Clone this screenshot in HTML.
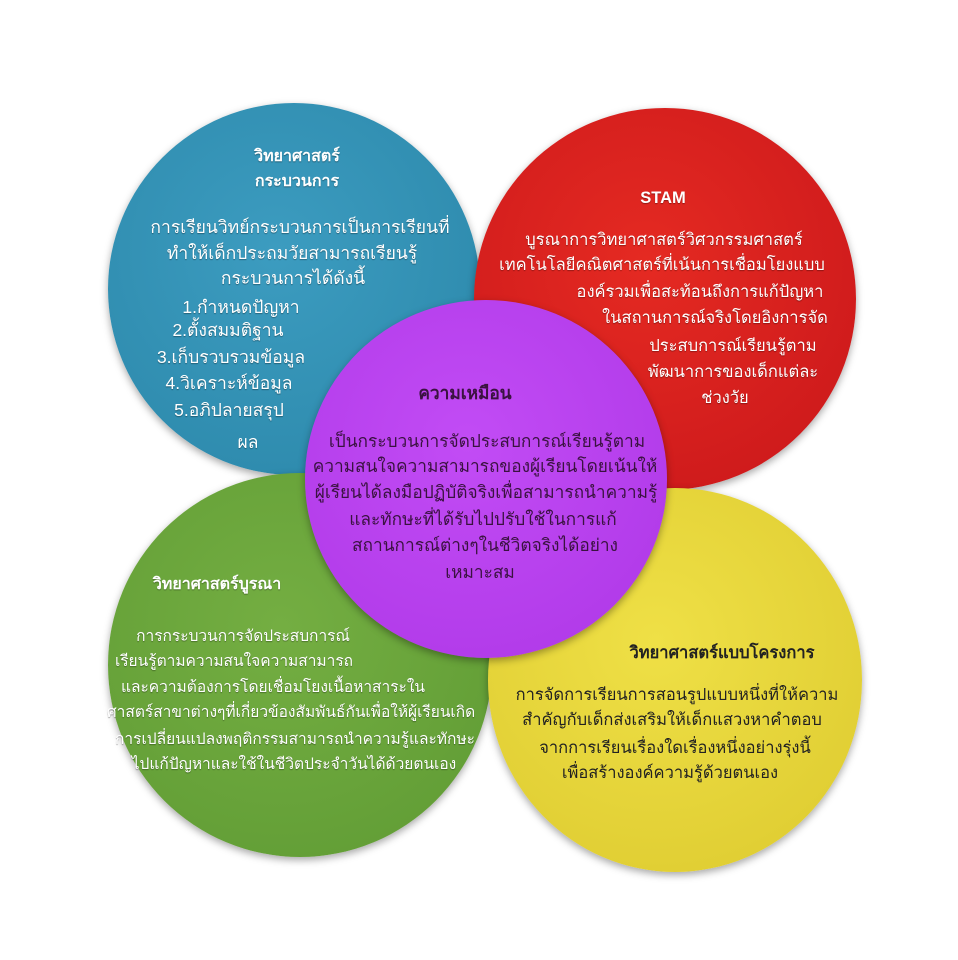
<!DOCTYPE html>
<html><head><meta charset="utf-8"><style>
body{margin:0;width:958px;height:960px;background:#fff;overflow:hidden;position:relative;font-family:"Liberation Sans","DejaVu Sans","Noto Sans CJK SC",sans-serif;color:#111}
.c{position:absolute;border-radius:50%;box-shadow:0 3px 8px rgba(0,0,0,.35)}
.l{position:absolute;width:500px;text-align:center;height:26px;line-height:26px;white-space:nowrap}
.w{color:#fff;text-shadow:0 1px 1px rgba(0,0,0,.35)}
.b{font-weight:bold}
.bl{font-size:17.5px}.rd{font-size:16.5px}.pp{font-size:17.3px;color:#3a1240}.gr{font-size:15.5px}.yl{font-size:16.5px;color:#222}
</style></head><body>
<div class="c" style="left:108px;top:103px;width:372px;height:372px;background:radial-gradient(circle at 45% 40%,#3c9cc0,#2a86a8)"></div>
<div class="c" style="left:474px;top:108px;width:382px;height:382px;background:radial-gradient(circle at 45% 40%,#e52a22,#c8161a)"></div>
<div class="c" style="left:108px;top:473px;width:384px;height:384px;background:radial-gradient(circle at 45% 40%,#74ae42,#5e9a33)"></div>
<div class="c" style="left:488px;top:488px;width:374px;height:384px;background:radial-gradient(circle at 45% 40%,#efe046,#dcc92e)"></div>
<div class="c" style="left:305px;top:300px;width:362px;height:358px;background:radial-gradient(circle at 45% 40%,#c24cf5,#ad36e6)"></div>

<div class="l w b bl" style="left:47px;top:144px;font-size:16px">วิทยาศาสตร์</div>
<div class="l w b bl" style="left:47px;top:169px;font-size:16px">กระบวนการ</div>
<div class="l w bl" style="left:50px;top:214px">การเรียนวิทย์กระบวนการเป็นการเรียนที่</div>
<div class="l w bl" style="left:42px;top:240px">ทำให้เด็กประถมวัยสามารถเรียนรู้</div>
<div class="l w bl" style="left:43px;top:265px">กระบวนการได้ดังนี้</div>
<div class="l w bl" style="left:-9px;top:294px">1.กำหนดปัญหา</div>
<div class="l w bl" style="left:-22px;top:317px">2.ตั้งสมมติฐาน</div>
<div class="l w bl" style="left:-19px;top:344px">3.เก็บรวบรวมข้อมูล</div>
<div class="l w bl" style="left:-21px;top:370px">4.วิเคราะห์ข้อมูล</div>
<div class="l w bl" style="left:-21px;top:397px">5.อภิปลายสรุป</div>
<div class="l w bl" style="left:-2px;top:429px">ผล</div>

<div class="l w b rd" style="left:413px;top:185px">STAM</div>
<div class="l w rd" style="left:414px;top:227px">บูรณาการวิทยาศาสตร์วิศวกรรมศาสตร์</div>
<div class="l w rd" style="left:412px;top:252px">เทคโนโลยีคณิตศาสตร์ที่เน้นการเชื่อมโยงแบบ</div>
<div class="l w rd" style="left:450px;top:279px">องค์รวมเพื่อสะท้อนถึงการแก้ปัญหา</div>
<div class="l w rd" style="left:465px;top:305px">ในสถานการณ์จริงโดยอิงการจัด</div>
<div class="l w rd" style="left:483px;top:333px">ประสบการณ์เรียนรู้ตาม</div>
<div class="l w rd" style="left:483px;top:359px">พัฒนาการของเด็กแต่ละ</div>
<div class="l w rd" style="left:475px;top:385px">ช่วงวัย</div>

<div class="l b pp" style="left:215px;top:380px">ความเหมือน</div>
<div class="l pp" style="left:237px;top:428px">เป็นกระบวนการจัดประสบการณ์เรียนรู้ตาม</div>
<div class="l pp" style="left:235px;top:453px">ความสนใจความสามารถของผู้เรียนโดยเน้นให้</div>
<div class="l pp" style="left:236px;top:479px">ผู้เรียนได้ลงมือปฏิบัติจริงเพื่อสามารถนำความรู้</div>
<div class="l pp" style="left:233px;top:506px">และทักษะที่ได้รับไปปรับใช้ในการแก้</div>
<div class="l pp" style="left:235px;top:532px">สถานการณ์ต่างๆในชีวิตจริงได้อย่าง</div>
<div class="l pp" style="left:230px;top:559px">เหมาะสม</div>

<div class="l w b gr" style="left:-33px;top:572px;font-size:16px">วิทยาศาสตร์บูรณา</div>
<div class="l w gr" style="left:-7px;top:624px">การกระบวนการจัดประสบการณ์</div>
<div class="l w gr" style="left:-16px;top:649px">เรียนรู้ตามความสนใจความสามารถ</div>
<div class="l w gr" style="left:23px;top:675px">และความต้องการโดยเชื่อมโยงเนื้อหาสาระใน</div>
<div class="l w gr" style="left:41px;top:700px">ศาสตร์สาขาต่างๆที่เกี่ยวข้องสัมพันธ์กันเพื่อให้ผู้เรียนเกิด</div>
<div class="l w gr" style="left:45px;top:727px">การเปลี่ยนแปลงพฤติกรรมสามารถนำความรู้และทักษะ</div>
<div class="l w gr" style="left:44px;top:752px">ไปแก้ปัญหาและใช้ในชีวิตประจำวันได้ด้วยตนเอง</div>

<div class="l b yl" style="left:472px;top:640px">วิทยาศาสตร์แบบโครงการ</div>
<div class="l yl" style="left:427px;top:682px">การจัดการเรียนการสอนรูปแบบหนึ่งที่ให้ความ</div>
<div class="l yl" style="left:422px;top:707px">สำคัญกับเด็กส่งเสริมให้เด็กแสวงหาคำตอบ</div>
<div class="l yl" style="left:425px;top:735px">จากการเรียนเรื่องใดเรื่องหนึ่งอย่างรุ่งนี้</div>
<div class="l yl" style="left:420px;top:760px">เพื่อสร้างองค์ความรู้ด้วยตนเอง</div>
</body></html>
